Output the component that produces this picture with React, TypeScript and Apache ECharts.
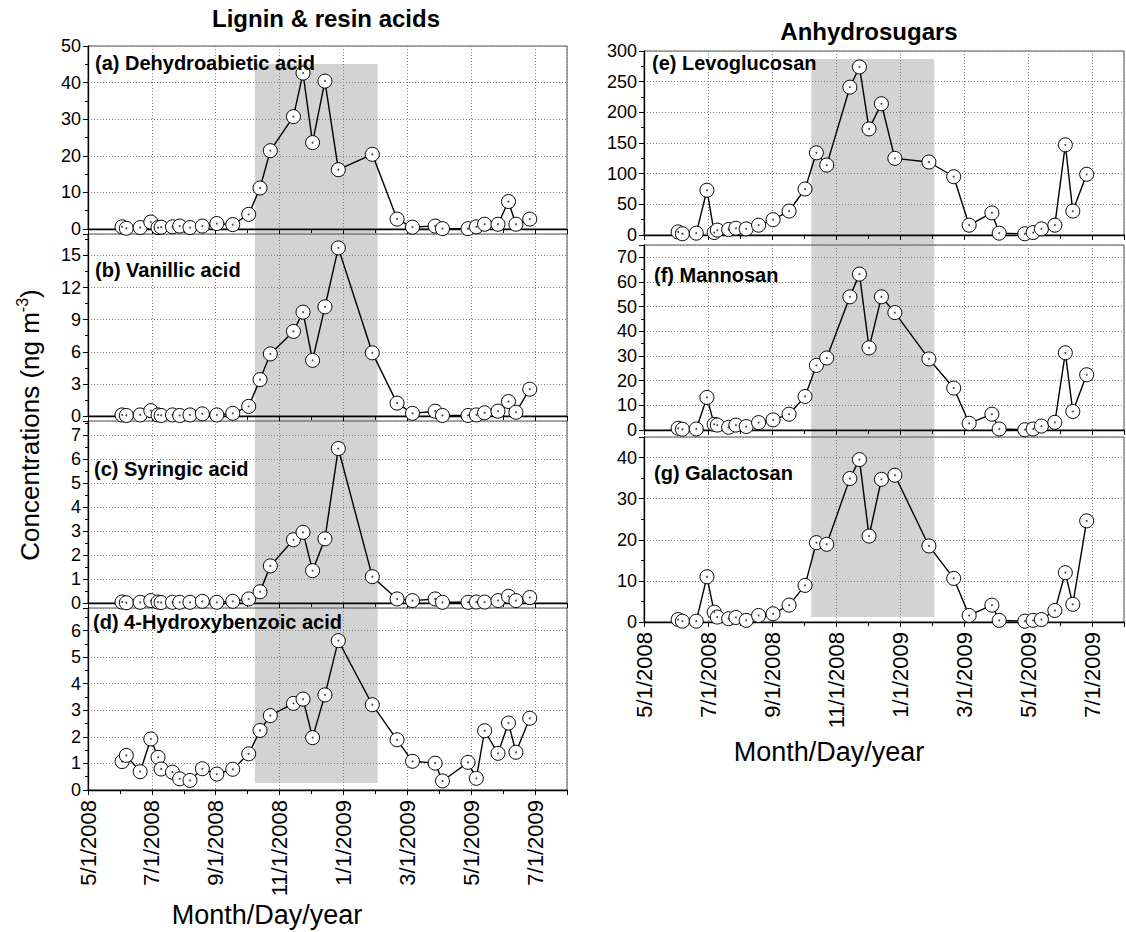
import React, { useEffect, useRef } from 'react';
import * as echarts from 'echarts';

// ---------------- data ----------------
const sampleDates = [
  '2008-06-03', '2008-06-07', '2008-06-20', '2008-06-30', '2008-07-07', '2008-07-10',
  '2008-07-21', '2008-07-28', '2008-08-07', '2008-08-19', '2008-09-02', '2008-09-17',
  '2008-10-02', '2008-10-13', '2008-10-23', '2008-11-14', '2008-11-23', '2008-12-02',
  '2008-12-14', '2008-12-27', '2009-01-29', '2009-02-20', '2009-03-06', '2009-03-28',
  '2009-04-04', '2009-04-28', '2009-05-06', '2009-05-14', '2009-05-27', '2009-06-06',
  '2009-06-13', '2009-06-26',
];

const dehydroabietic = [0.6, 0.2, 0.4, 1.9, 0.4, 0.5, 0.6, 0.8, 0.4, 0.8, 1.5, 1.2, 4.0, 11.2, 21.4, 30.7, 42.6, 23.6, 40.4, 16.2, 20.4, 2.7, 0.5, 0.8, 0.1, 0.1, 0.6, 1.3, 1.3, 7.5, 1.3, 2.7];
const vanillic = [0.1, 0.05, 0.1, 0.5, 0.1, 0.05, 0.1, 0.05, 0.1, 0.2, 0.1, 0.25, 0.9, 3.4, 5.8, 7.9, 9.7, 5.2, 10.2, 15.7, 5.9, 1.2, 0.25, 0.45, 0.05, 0.05, 0.1, 0.3, 0.45, 1.35, 0.35, 2.5];
const syringic = [0.04, 0.01, 0.03, 0.1, 0.04, 0.02, 0.03, 0.03, 0.03, 0.07, 0.03, 0.07, 0.17, 0.47, 1.55, 2.64, 2.95, 1.35, 2.68, 6.45, 1.1, 0.17, 0.1, 0.17, 0.03, 0.03, 0.04, 0.04, 0.1, 0.28, 0.1, 0.23];
const hydroxybenzoic = [1.07, 1.3, 0.69, 1.92, 1.23, 0.79, 0.67, 0.42, 0.36, 0.8, 0.6, 0.78, 1.36, 2.24, 2.8, 3.26, 3.42, 1.97, 3.58, 5.62, 3.21, 1.89, 1.08, 1.01, 0.34, 1.04, 0.44, 2.23, 1.38, 2.52, 1.42, 2.7];
const levoglucosan = [5, 2, 3, 73, 4, 8, 9, 11, 10, 16, 25, 39, 75, 134, 114, 241, 274, 173, 214, 125, 119, 95, 16, 36, 3, 2, 4, 10, 16, 147, 39, 99];
const mannosan = [0.7, 0.3, 0.4, 13.2, 2.3, 2.0, 1.1, 2.0, 1.4, 3.0, 4.1, 6.4, 13.6, 26.2, 29.2, 54, 63.2, 33.3, 54, 47.6, 28.8, 17, 2.7, 6.4, 0.4, 0.1, 0.4, 1.6, 3.1, 31.3, 7.5, 22.4];
const galactosan = [0.6, 0.2, 0.2, 11.0, 2.4, 1.2, 0.8, 1.1, 0.4, 1.6, 2.0, 4.1, 8.9, 19.3, 18.9, 34.9, 39.5, 20.9, 34.7, 35.7, 18.5, 10.6, 1.6, 4.1, 0.4, 0.2, 0.4, 0.6, 2.8, 12.0, 4.3, 24.6];

const xTickLabels = ['5/1/2008', '7/1/2008', '9/1/2008', '11/1/2008', '1/1/2009', '3/1/2009', '5/1/2009', '7/1/2009'];
const heatingSeason = ['2008-10-08', '2009-02-03'];
const axisEndDate = '2009-08-01';

const columnTitles = ['Lignin & resin acids', 'Anhydrosugars'];
const panelLabels = [
  '(a) Dehydroabietic acid', '(b) Vanillic acid', '(c) Syringic acid', '(d) 4-Hydroxybenzoic acid',
  '(e) Levoglucosan', '(f) Mannosan', '(g) Galactosan',
];
const panelValues = [dehydroabietic, vanillic, syringic, hydroxybenzoic, levoglucosan, mannosan, galactosan];

// ---------------- layout ----------------
const FONT = "'Liberation Sans', Arial, Helvetica, sans-serif";
const colLeft = [88, 644];
const colWidth = [479, 480];
const panelLayout = [
  { col: 0, top: 46, height: 183, max: 50, interval: 10, lx: 95, ly: 63, bottom: false },
  { col: 0, top: 234, height: 182, max: 17, interval: 3, lx: 95, ly: 270, bottom: false },
  { col: 0, top: 421, height: 182, max: 7.6, interval: 1, lx: 94, ly: 469, bottom: false },
  { col: 0, top: 608, height: 182, max: 6.85, interval: 1, lx: 93, ly: 622, bottom: true },
  { col: 1, top: 51, height: 184, max: 300, interval: 50, lx: 652, ly: 63, bottom: false },
  { col: 1, top: 245, height: 185, max: 75, interval: 10, lx: 654, ly: 275, bottom: false },
  { col: 1, top: 437, height: 185, max: 45, interval: 10, lx: 654, ly: 473, bottom: true },
];
const shadeLayout = [
  { top: 64, height: 719 },
  { top: 59, height: 558 },
];

function monthIndex(d: string): number {
  const [y, m, day] = d.split('-').map(Number);
  const dim = new Date(y, m, 0).getDate();
  return (y - 2008) * 12 + (m - 5) + (day - 1) / dim;
}

function buildOption() {
  const xMax = monthIndex(axisEndDate);
  const grid: any[] = [];
  const xAxis: any[] = [];
  const yAxis: any[] = [];
  const series: any[] = [];
  const graphic: any[] = [];
  const gridLine = { show: true, lineStyle: { color: '#808080', width: 1, type: [1, 2] } };

  panelLayout.forEach((p, i) => {
    grid.push({
      left: colLeft[p.col], width: colWidth[p.col], top: p.top, height: p.height,
      show: true, borderColor: '#555', borderWidth: 1, backgroundColor: 'transparent',
    });
    xAxis.push({
      type: 'value', gridIndex: i, min: 0, max: xMax, interval: 2, z: 1,
      axisLine: { show: true, onZero: false, lineStyle: { color: '#000', width: 1.3 } },
      axisTick: { show: true, inside: false, length: 5, lineStyle: { color: '#000' } },
      minorTick: { show: true, splitNumber: 2, length: 4, lineStyle: { color: '#000' } },
      splitLine: gridLine,
      axisLabel: p.bottom
        ? {
            show: true, rotate: 90, fontSize: 22, color: '#000', fontFamily: FONT, margin: 10,
            showMaxLabel: false, showMinLabel: true,
            formatter: (v: number) => xTickLabels[Math.round(v / 2)] ?? '',
          }
        : { show: false },
    });
    const roundMax = Math.abs(p.max / p.interval - Math.round(p.max / p.interval)) < 1e-9;
    yAxis.push({
      type: 'value', gridIndex: i, min: 0, max: p.max, interval: p.interval, z: 1,
      axisLine: { show: true, onZero: false, lineStyle: { color: '#000', width: 1.3 } },
      axisTick: { show: true, inside: false, length: 5, lineStyle: { color: '#000' } },
      minorTick: { show: true, splitNumber: 2, length: 3, lineStyle: { color: '#000' } },
      splitLine: gridLine,
      axisLabel: { fontSize: 18, lineHeight: 13, color: '#000', fontFamily: FONT, margin: 7, showMaxLabel: roundMax },
    });
    const pts = sampleDates.map((d, k) => [monthIndex(d), panelValues[i][k]]);
    series.push({
      type: 'line', xAxisIndex: i, yAxisIndex: i, data: pts, z: 3, clip: false,
      symbol: 'circle', symbolSize: 14,
      itemStyle: { color: '#fff', borderColor: '#000', borderWidth: 1 },
      lineStyle: { color: '#000', width: 1.4 },
      silent: true,
    });
    series.push({
      type: 'scatter', xAxisIndex: i, yAxisIndex: i, data: pts, z: 4, clip: false,
      symbol: 'circle', symbolSize: 2, itemStyle: { color: '#222' }, silent: true,
    });
    graphic.push({
      type: 'text', x: p.lx, y: p.ly, z: 10,
      style: { text: panelLabels[i], font: `bold 20px ${FONT}`, fill: '#000', verticalAlign: 'middle', align: 'left' },
    });
  });

  // shaded heating season, one background grid per column
  const s0 = monthIndex(heatingSeason[0]);
  const s1 = monthIndex(heatingSeason[1]);
  shadeLayout.forEach((s, c) => {
    const gi = grid.length;
    grid.push({ left: colLeft[c], width: colWidth[c], top: s.top, height: s.height, show: false });
    xAxis.push({ type: 'value', gridIndex: gi, min: 0, max: xMax, show: false });
    yAxis.push({ type: 'value', gridIndex: gi, min: 0, max: 1, show: false });
    series.push({
      type: 'line', xAxisIndex: gi, yAxisIndex: gi, z: -2, silent: true,
      data: [[s0, 0], [s1, 1]], symbol: 'none', lineStyle: { opacity: 0 },
      markArea: {
        silent: true, z: -2,
        itemStyle: { color: '#d3d3d3' },
        data: [[{ xAxis: s0, yAxis: 0 }, { xAxis: s1, yAxis: 1 }]],
      },
    });
  });

  graphic.push(
    { type: 'text', x: 326, y: 18, style: { text: columnTitles[0], font: `bold 24px ${FONT}`, fill: '#000', align: 'center', verticalAlign: 'middle' } },
    { type: 'text', x: 869, y: 31, style: { text: columnTitles[1], font: `bold 24px ${FONT}`, fill: '#000', align: 'center', verticalAlign: 'middle' } },
    { type: 'text', x: 267, y: 915, style: { text: 'Month/Day/year', font: `27px ${FONT}`, fill: '#000', align: 'center', verticalAlign: 'middle' } },
    { type: 'text', x: 829, y: 752, style: { text: 'Month/Day/year', font: `27px ${FONT}`, fill: '#000', align: 'center', verticalAlign: 'middle' } },
    {
      type: 'text', x: 30, y: 425, rotation: Math.PI / 2,
      style: {
        text: '{a|Concentrations (ng m}{s|-3}{a|)}',
        align: 'center', verticalAlign: 'middle', fill: '#000',
        rich: {
          a: { fontSize: 26, fontFamily: FONT, color: '#000', lineHeight: 32 },
          s: { fontSize: 16, fontFamily: FONT, color: '#000', verticalAlign: 'top', lineHeight: 16 },
        },
      },
    },
  );

  return {
    animation: false,
    backgroundColor: '#fff',
    textStyle: { fontFamily: FONT },
    grid, xAxis, yAxis, series, graphic,
  };
}

export default function App() {
  const ref = useRef<HTMLDivElement>(null);
  useEffect(() => {
    document.body.style.margin = '0';
    if (!ref.current) return;
    const chart = echarts.init(ref.current, undefined, { renderer: 'svg' });
    chart.setOption(buildOption() as any);
    return () => chart.dispose();
  }, []);
  return <div ref={ref} style={{ width: 1126, height: 932 }} />;
}
